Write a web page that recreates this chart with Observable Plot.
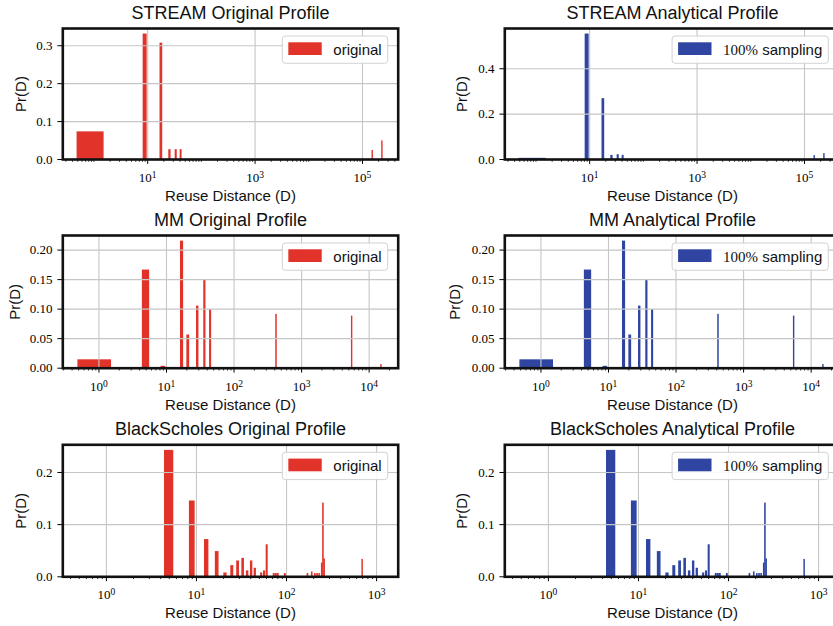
<!DOCTYPE html>
<html><head><meta charset="utf-8">
<script src="https://cdn.jsdelivr.net/npm/d3@7"></script>
<script src="https://cdn.jsdelivr.net/npm/@observablehq/plot@0.6"></script>
<style>
html,body{margin:0;padding:0;background:#fff;}
#fig{position:relative;width:833px;height:626px;overflow:hidden;background:#fff;}
.panel{position:absolute;}
.panel svg{display:block;max-width:none !important;}
</style></head><body><div id="fig"></div>
<script>
// ---------------- data ----------------
const streamD      = [1, 9, 18, 26, 34, 42, 155000, 235000];
const streamOrigP  = [0.071, 0.329, 0.305, 0.024, 0.024, 0.024, 0.022, 0.047];
const streamAnaP   = [0.002, 0.550, 0.265, 0.015, 0.018, 0.015, 0.014, 0.023];

const mmD          = [1, 5, 9, 17, 21, 29, 37, 45, 425, 5600, 15200];
const mmOrigP      = [0.013, 0.165, 0.002, 0.214, 0.055, 0.104, 0.149, 0.098, 0.090, 0.087, 0.005];
const mmAnaP       = [0.013, 0.165, 0.002, 0.214, 0.055, 0.104, 0.149, 0.098, 0.090, 0.087, 0.005];

const bsD          = [5, 9, 13, 17, 21, 25, 29, 33, 37, 41, 45, 53, 57, 61, 73, 77, 81, 97, 173, 193, 209, 221, 233, 249, 257, 265, 700];
const bsOrigP      = [0.241, 0.144, 0.070, 0.047, 0.006, 0.020, 0.029, 0.034, 0.010, 0.029, 0.015, 0.006, 0.010, 0.060, 0.005, 0.005, 0.005, 0.005, 0.005, 0.008, 0.005, 0.005, 0.005, 0.025, 0.140, 0.033, 0.032];
const bsAnaP       = [0.241, 0.144, 0.070, 0.047, 0.006, 0.020, 0.029, 0.034, 0.010, 0.029, 0.015, 0.006, 0.010, 0.060, 0.005, 0.005, 0.005, 0.005, 0.005, 0.008, 0.005, 0.005, 0.005, 0.025, 0.140, 0.033, 0.032];

const titles = ["STREAM Original Profile", "STREAM Analytical Profile",
                "MM Original Profile", "MM Analytical Profile",
                "BlackScholes Original Profile", "BlackScholes Analytical Profile"];
const legendLabels = ["original", "100% sampling"];
const xLabel = "Reuse Distance (D)";
const yLabel = "Pr(D)";

const streamXTicks = [1e1, 1e3, 1e5];
const mmXTicks     = [1e0, 1e1, 1e2, 1e3, 1e4];
const bsXTicks     = [1e0, 1e1, 1e2, 1e3];
const streamYTicksOrig = [0, 0.1, 0.2, 0.3];
const streamYTicksAna  = [0, 0.2, 0.4];
const mmYTicks     = [0, 0.05, 0.10, 0.15, 0.20];
const bsYTicks     = [0, 0.1, 0.2];

// ---------------- style / layout ----------------
const RED = "#e1332a", BLUE = "#2f45a1";
const SANS = "'Liberation Sans', Arial, sans-serif";
const SERIF = "'Liberation Serif', 'Times New Roman', serif";
const cols = [
  {left: 0,   width: 415, frameLeft: 62.3, frameRight: 397.7, legendRight: 387.7},
  {left: 415, width: 430, frameLeft: 89.3, frameRight: 424.7, legendRight: 413.3}
];
const rows = [
  {top: 0,   height: 210, frameTop: 28,    frameBottom: 159,   xDomain: [Math.pow(10,-0.58), Math.pow(10,5.665)]},
  {top: 207, height: 210, frameTop: 28,    frameBottom: 160.7, xDomain: [Math.pow(10,-0.535), Math.pow(10,4.43)]},
  {top: 416, height: 210, frameTop: 28.3,  frameBottom: 160.3, xDomain: [Math.pow(10,-0.484), Math.pow(10,3.24)]}
];

const expFmt = d => "10^" + Math.round(Math.log10(d));

function minorTicks(domain, majors) {
  const out = [];
  const lo = Math.floor(Math.log10(domain[0])) , hi = Math.ceil(Math.log10(domain[1]));
  for (let e = lo; e <= hi; e++) for (let k = 1; k <= 9; k++) {
    const v = k * Math.pow(10, e);
    if (v >= domain[0] && v <= domain[1] && !majors.some(m => Math.abs(m - v) / v < 1e-9)) out.push(v);
  }
  return out;
}

const panels = [
  {row:0, col:0, D: streamD, P: streamOrigP, color: RED,  legend: 0, xTicks: streamXTicks, yTicks: streamYTicksOrig, yFmt: ".1f", ylDx: -41.5},
  {row:0, col:1, D: streamD, P: streamAnaP,  color: BLUE, legend: 1, xTicks: streamXTicks, yTicks: streamYTicksAna,  yFmt: ".1f", ylDx: -43},
  {row:1, col:0, D: mmD,     P: mmOrigP,     color: RED,  legend: 0, xTicks: mmXTicks,     yTicks: mmYTicks,         yFmt: ".2f", ylDx: -47.3},
  {row:1, col:1, D: mmD,     P: mmAnaP,      color: BLUE, legend: 1, xTicks: mmXTicks,     yTicks: mmYTicks,         yFmt: ".2f", ylDx: -50},
  {row:2, col:0, D: bsD,     P: bsOrigP,     color: RED,  legend: 0, xTicks: bsXTicks,     yTicks: bsYTicks,         yFmt: ".1f", ylDx: -41.5},
  {row:2, col:1, D: bsD,     P: bsAnaP,      color: BLUE, legend: 1, xTicks: bsXTicks,     yTicks: bsYTicks,         yFmt: ".1f", ylDx: -43}
];

const fig = document.getElementById("fig");

panels.forEach((p, i) => {
  const C = cols[p.col], R = rows[p.row];
  const W = C.width, H = R.height;
  const data = p.D.map((d, j) => ({D: d, p: p.P[j]}));
  const ymax = d3.max(p.P) * 1.05;
  const minor = minorTicks(R.xDomain, p.xTicks);
  const chart = Plot.plot({
    width: W, height: H,
    marginLeft: C.frameLeft, marginRight: W - C.frameRight,
    marginTop: R.frameTop, marginBottom: H - R.frameBottom,
    style: {fontFamily: SANS, fontSize: "13px", background: "transparent", color: "#000", overflow: "visible", maxWidth: "none"},
    x: {type: "log", domain: R.xDomain, label: null},
    y: {domain: [0, ymax], label: null},
    marks: [
      Plot.rect(data, {x1: d => d.D - 0.5, x2: d => d.D + 0.5, y1: 0, y2: "p", fill: p.color, stroke: p.color, strokeWidth: 1.4}),
      Plot.gridX(p.xTicks, {stroke: "#c6c6c6", strokeOpacity: 1, strokeWidth: 1.1}),
      Plot.gridY(p.yTicks, {stroke: "#c6c6c6", strokeOpacity: 1, strokeWidth: 1.1}),
      Plot.axisX(minor, {tickSize: 2.8, tickFormat: () => "", strokeWidth: 0.8, label: null}),
      Plot.axisX(p.xTicks, {tickSize: 4.9, tickPadding: 8.5, tickFormat: expFmt, fontFamily: SERIF, fontSize: 13, strokeWidth: 1, label: null}),
      Plot.axisY(p.yTicks, {tickSize: 4.9, tickPadding: 5.5, tickFormat: d3.format(p.yFmt), fontFamily: SERIF, fontSize: 13, strokeWidth: 1, label: null}),
      Plot.frame({stroke: "#111", strokeWidth: 2.6}),
      Plot.text([titles[i]], {text: d => d, frameAnchor: "top", textAnchor: "middle", lineAnchor: "middle", dy: -15.3, fontSize: 18, fill: "#111"}),
      Plot.text([xLabel], {text: d => d, frameAnchor: "bottom", textAnchor: "middle", lineAnchor: "middle", dy: 36.5, fontSize: 15, fill: "#111"}),
      Plot.text([yLabel], {text: d => d, frameAnchor: "left", textAnchor: "middle", lineAnchor: "middle", rotate: -90, dx: p.ylDx, fontSize: 15, fill: "#111"})
    ]
  });
  chart.style.maxWidth = "none";
  const div = document.createElement("div");
  div.className = "panel";
  div.style.left = C.left + "px";
  div.style.top = R.top + "px";
  div.style.width = W + "px";
  div.appendChild(chart);
  fig.appendChild(div);

  // typeset "10^n" tick labels with a real superscript
  d3.select(chart).selectAll("text").each(function () {
    const t = this.textContent;
    const m = /^10\^(-?\d+)$/.exec(t);
    if (!m) return;
    const el = d3.select(this);
    el.text(null);
    el.append("tspan").text("10");
    el.append("tspan").attr("dy", "-0.42em").attr("font-size", 9.5).text(m[1]);
  });

  // legend (upper right, inside axes)
  const svg = d3.select(chart);
  const g = svg.append("g").attr("text-anchor", "start");
  const boxTop = R.frameTop + 8, boxH = 27.3;
  const box = g.append("rect").attr("y", boxTop).attr("height", boxH).attr("rx", 3)
    .attr("fill", "#fff").attr("fill-opacity", 0.85).attr("stroke", "#d2d2d2").attr("stroke-width", 1);
  const patch = g.append("rect").attr("y", boxTop + 6.3).attr("height", 12.7).attr("width", 33.4).attr("fill", p.color);
  const txt = g.append("text").attr("y", boxTop + boxH / 2).attr("dy", "0.35em").attr("font-size", 15)
    .attr("fill", "#111").attr("text-anchor", "start");
  if (p.legend === 0) {
    txt.append("tspan").attr("font-family", SANS).text(legendLabels[0]);
  } else {
    const parts = legendLabels[1].split(" ");
    txt.append("tspan").attr("font-family", SERIF).text(parts[0]);
    txt.append("tspan").attr("font-family", SANS).text(" " + parts[1]);
  }
  const tw = txt.node().getComputedTextLength();
  const bw = 6 + 33.4 + 11.6 + tw + 6;
  const bx = C.legendRight - bw;
  box.attr("x", bx).attr("width", bw);
  patch.attr("x", bx + 6);
  txt.attr("x", bx + 6 + 33.4 + 11.6);
});
</script></body></html>
